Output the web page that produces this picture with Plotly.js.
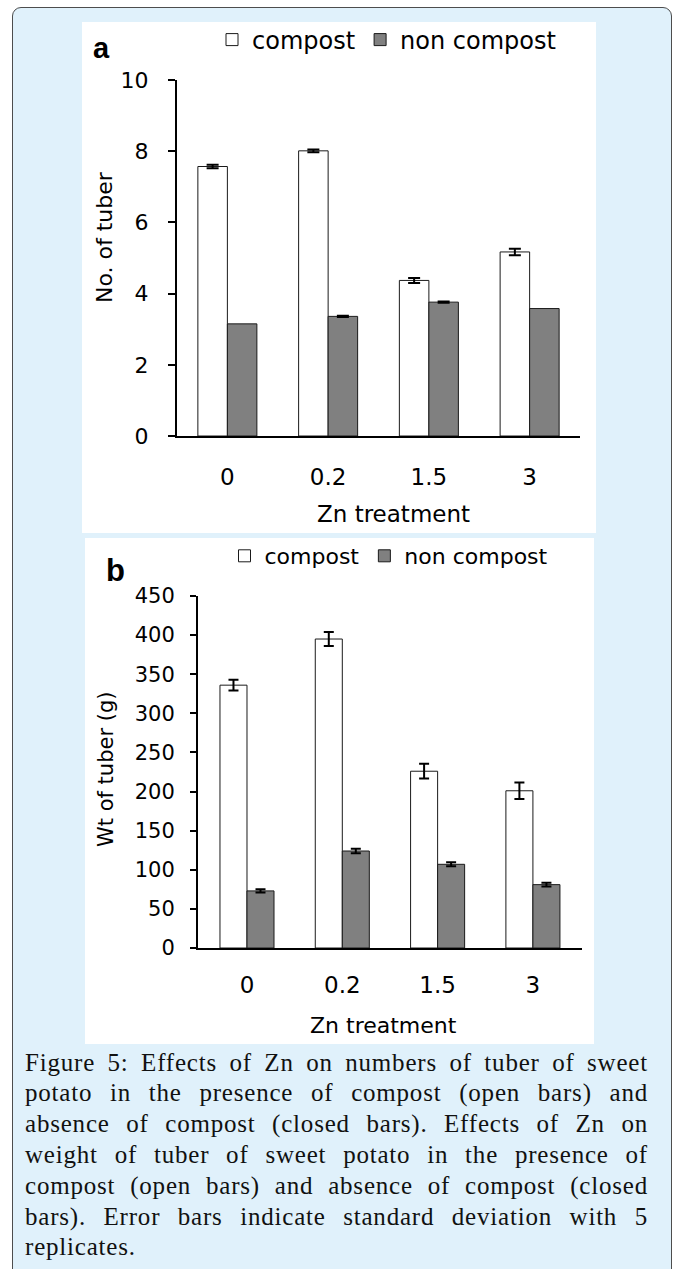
<!DOCTYPE html>
<html>
<head>
<meta charset="utf-8">
<script src="https://cdn.plot.ly/plotly-3.0.1.min.js"></script>
<style>
html,body{margin:0;padding:0;width:676px;height:1269px;overflow:hidden;background:#ffffff;}
#frame{position:absolute;left:12px;top:7px;width:660px;height:1320px;background:#E0F1FB;border:1.5px solid #4d4d4d;border-radius:9px;box-sizing:border-box;}
#chartA{position:absolute;left:82px;top:22px;width:514px;height:511px;}
#chartB{position:absolute;left:85px;top:538px;width:509px;height:506px;}
#caption{position:absolute;left:25px;top:1047.6px;width:623px;font-family:"Liberation Serif","Times New Roman",serif;font-size:25px;letter-spacing:0.8px;line-height:30.8px;color:#111;}
#caption .j{text-align:justify;text-align-last:justify;}
#caption .l{text-align:left;}
</style>
</head>
<body>
<div id="frame"></div>
<div id="chartA"></div>
<div id="chartB"></div>
<div id="caption">
<div class="j">Figure 5: Effects of Zn on numbers of tuber of sweet</div>
<div class="j">potato in the presence of compost (open bars) and</div>
<div class="j">absence of compost (closed bars). Effects of Zn on</div>
<div class="j">weight of tuber of sweet potato in the presence of</div>
<div class="j">compost (open bars) and absence of compost (closed</div>
<div class="j">bars). Error bars indicate standard deviation with 5</div>
<div class="l">replicates.</div>
</div>
<script>
// ---- data ----
const categories = ['0', '0.2', '1.5', '3'];
const seriesNames = ['compost', 'non compost'];
const tuberCountCompost = [7.57, 8.01, 4.37, 5.17];
const tuberCountCompostSD = [0.05, 0.04, 0.07, 0.09];
const tuberCountNonCompost = [3.15, 3.36, 3.76, 3.58];
const tuberCountNonCompostSD = [null, 0.02, 0.02, null];
const tuberWtCompost = [336, 395, 226, 201];
const tuberWtCompostSD = [6.8, 9, 9.4, 10.6];
const tuberWtNonCompost = [73, 124, 107, 81];
const tuberWtNonCompostSD = [2, 3, 2.5, 2.5];
const xTitle = 'Zn treatment';
const yTitleA = 'No. of tuber';
const yTitleB = 'Wt of tuber (g)';

// ---- geometry helpers ----
const geoA = {left: 82, top: 22, l: 95, t: 58, w: 403, h: 356};
const geoB = {left: 85, top: 538, l: 113, t: 58, w: 384, h: 352};
function P(g, X, Y) {
  return {x: (X - g.left - g.l) / g.w, y: 1 - (Y - g.top - g.t) / g.h};
}
function ann(g, X, Y, text, font, extra) {
  const p = P(g, X, Y);
  return Object.assign({xref: 'paper', yref: 'paper', x: p.x, y: p.y, text: text,
    showarrow: false, xanchor: 'center', yanchor: 'middle', font: font}, extra || {});
}

const SANS = 'DejaVu Sans, Verdana, sans-serif';
const ARIAL = 'Liberation Sans, Arial, sans-serif';

function bars(vals, sds, name, fill, capw) {
  const errArr = sds.map(v => v === null ? NaN : v);
  return {
    type: 'bar', x: categories, y: vals, name: name,
    marker: {color: fill, line: {color: '#1a1a1a', width: 1}},
    error_y: {type: 'data', array: errArr, visible: true, color: '#000', thickness: 2, width: capw}
  };
}

// ---- chart a ----
const tracesA = [
  bars(tuberCountCompost, tuberCountCompostSD, seriesNames[0], '#ffffff', 6),
  bars(tuberCountNonCompost, tuberCountNonCompostSD, seriesNames[1], '#808080', 6)
];
const legA = P(geoA, 212, 40);
const layoutA = {
  width: 514, height: 511,
  margin: {l: geoA.l, r: 514 - geoA.l - geoA.w, t: geoA.t, b: 511 - geoA.t - geoA.h, autoexpand: false},
  paper_bgcolor: '#ffffff', plot_bgcolor: '#ffffff',
  barmode: 'group', bargap: 0.414, bargroupgap: 0,
  showlegend: true,
  legend: {orientation: 'h', x: legA.x, y: legA.y, xanchor: 'left', yanchor: 'middle',
    font: {family: SANS, size: 24, color: '#000'}, bgcolor: 'rgba(0,0,0,0)', traceorder: 'normal'},
  xaxis: {type: 'category', range: [-0.5, 3.5], showline: true, linecolor: '#000', linewidth: 2,
    ticks: '', ticklen: 0, showgrid: false, zeroline: false,
    tickfont: {family: SANS, size: 23, color: '#000'}, ticklabelstandoff: 19},
  yaxis: {range: [0, 10], tickmode: 'linear', tick0: 0, dtick: 2, showline: true, linecolor: '#000', linewidth: 2,
    ticks: 'outside', ticklen: 7, tickwidth: 2, tickcolor: '#000', showgrid: false, zeroline: false,
    tickfont: {family: SANS, size: 22, color: '#000'}, ticklabelstandoff: 15},
  annotations: [
    ann(geoA, 101.5, 48, 'a', {family: ARIAL, size: 29, color: '#000', weight: 'bold'}),
    ann(geoA, 393.5, 514, xTitle, {family: SANS, size: 23, color: '#000'}),
    ann(geoA, 104.5, 237.5, yTitleA, {family: SANS, size: 22, color: '#000'}, {textangle: -90})
  ]
};

// ---- chart b ----
const tracesB = [
  bars(tuberWtCompost, tuberWtCompostSD, seriesNames[0], '#ffffff', 5),
  bars(tuberWtNonCompost, tuberWtNonCompostSD, seriesNames[1], '#808080', 5)
];
const legB = P(geoB, 224.5, 556);
const layoutB = {
  width: 509, height: 506,
  margin: {l: geoB.l, r: 509 - geoB.l - geoB.w, t: geoB.t, b: 506 - geoB.t - geoB.h, autoexpand: false},
  paper_bgcolor: '#ffffff', plot_bgcolor: '#ffffff',
  barmode: 'group', bargap: 0.433, bargroupgap: 0,
  showlegend: true,
  legend: {orientation: 'h', x: legB.x, y: legB.y, xanchor: 'left', yanchor: 'middle',
    font: {family: SANS, size: 22, color: '#000'}, bgcolor: 'rgba(0,0,0,0)', traceorder: 'normal'},
  xaxis: {type: 'category', range: [-0.514, 3.515], showline: true, linecolor: '#000', linewidth: 2,
    ticks: '', ticklen: 0, showgrid: false, zeroline: false,
    tickfont: {family: SANS, size: 23, color: '#000'}, ticklabelstandoff: 15},
  yaxis: {range: [0, 450], tickmode: 'linear', tick0: 0, dtick: 50, showline: true, linecolor: '#000', linewidth: 2,
    ticks: 'outside', ticklen: 6, tickwidth: 2, tickcolor: '#000', showgrid: false, zeroline: false,
    tickfont: {family: SANS, size: 21, color: '#000'}, ticklabelstandoff: 11},
  annotations: [
    ann(geoB, 115.5, 571, 'b', {family: ARIAL, size: 31, color: '#000', weight: 'bold'}),
    ann(geoB, 383, 1025, xTitle, {family: SANS, size: 22, color: '#000'}),
    ann(geoB, 106, 770, yTitleB, {family: SANS, size: 21, color: '#000'}, {textangle: -90})
  ]
};

const cfg = {displayModeBar: false, staticPlot: true};
Plotly.newPlot('chartA', tracesA, layoutA, cfg);
Plotly.newPlot('chartB', tracesB, layoutB, cfg);
</script>
</body>
</html>
